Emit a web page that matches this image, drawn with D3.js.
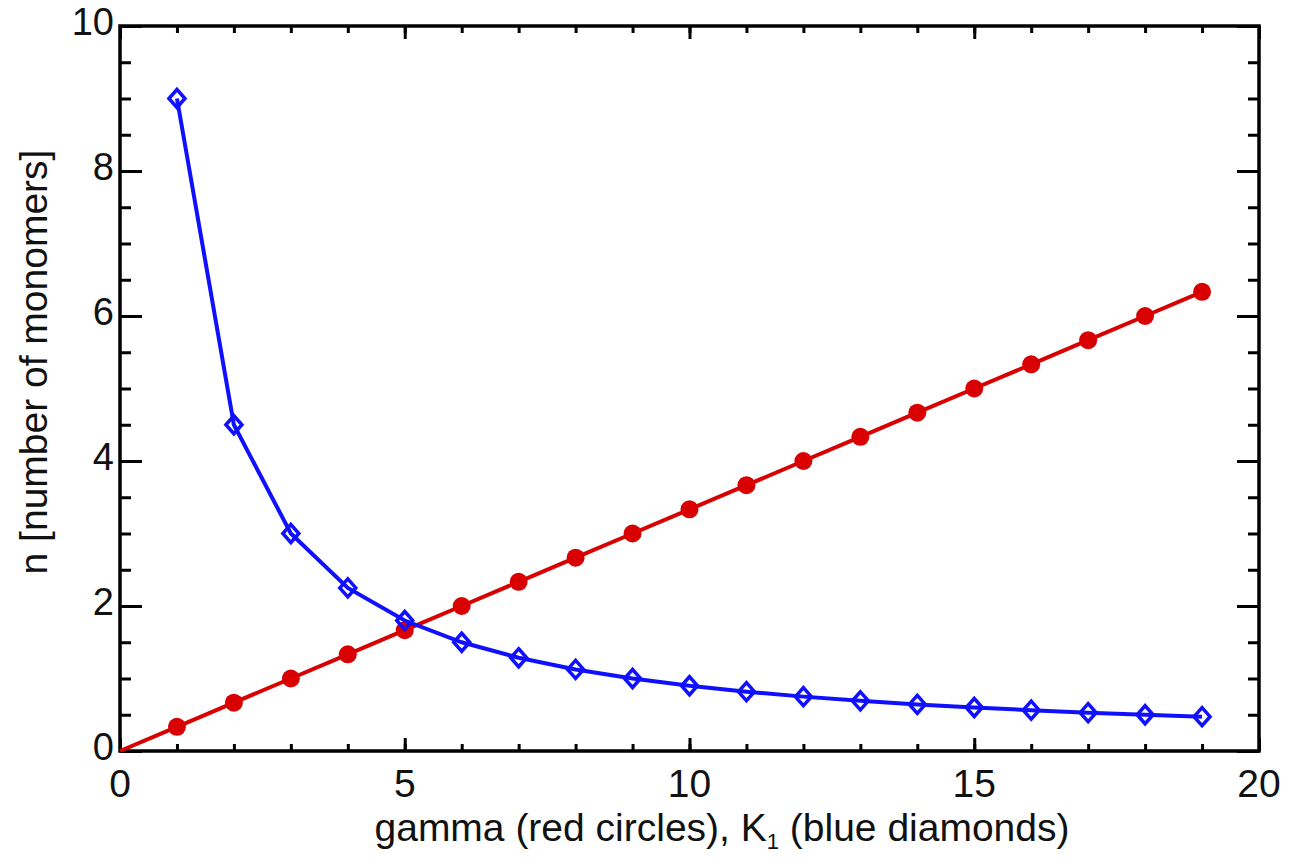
<!DOCTYPE html>
<html>
<head>
<meta charset="utf-8">
<script src="https://cdn.jsdelivr.net/npm/d3@7"></script>
<style>
  body { margin: 0; background: #fff; }
  svg text { font-family: "Liberation Sans", Arial, Helvetica, sans-serif; fill: #111; }
</style>
</head>
<body>
<svg id="chart"></svg>
<script>
// red circles: n vs gamma (line starts at the origin, no marker there)
const gammaX = [0, 1, 2, 3, 4, 5, 6, 7, 8, 9, 10, 11, 12, 13, 14, 15, 16, 17, 18, 19];
const gammaN = [0, 0.333, 0.667, 1.0, 1.333, 1.667, 2.0, 2.333, 2.667, 3.0, 3.333, 3.667, 4.0, 4.333, 4.667, 5.0, 5.333, 5.667, 6.0, 6.333];

// blue diamonds: n vs K1
const k1X = [1, 2, 3, 4, 5, 6, 7, 8, 9, 10, 11, 12, 13, 14, 15, 16, 17, 18, 19];
const k1N = [9.0, 4.5, 3.0, 2.25, 1.8, 1.5, 1.286, 1.125, 1.0, 0.9, 0.818, 0.75, 0.692, 0.643, 0.6, 0.563, 0.529, 0.5, 0.474];

const xMajor = [0, 5, 10, 15, 20];
const yMajor = [0, 2, 4, 6, 8, 10];

const width = 1313;
const height = 861;
const margin = ({ top: 26, right: 54, bottom: 110, left: 120 });

const svg = d3.select("#chart")
    .attr("width", width)
    .attr("height", height);

const xScale = d3.scaleLinear()
    .domain([0, 20])
    .range([margin.left, width - margin.right]);

const yScale = d3.scaleLinear()
    .domain([0, 10])
    .range([height - margin.bottom, margin.top]);

const xMinor = d3.range(0, 20.01, 1);
const yMinor = d3.range(0, 10.01, 0.5);

// ticks pointing inward on all four sides
function tickAxis(axis, values, size) {
    return g => g.call(axis.tickValues(values).tickSize(size).tickSizeOuter(0).tickFormat(""))
        .call(g => g.select(".domain").remove())
        .call(g => g.selectAll("line").attr("stroke", "#000").attr("stroke-width", 3));
}

const bottom = height - margin.bottom;
const right = width - margin.right;

svg.append("g").attr("transform", `translate(0,${bottom})`).call(tickAxis(d3.axisBottom(xScale), xMinor, -7));
svg.append("g").attr("transform", `translate(0,${bottom})`).call(tickAxis(d3.axisBottom(xScale), xMajor, -13));
svg.append("g").attr("transform", `translate(0,${margin.top})`).call(tickAxis(d3.axisTop(xScale), xMinor, -7));
svg.append("g").attr("transform", `translate(0,${margin.top})`).call(tickAxis(d3.axisTop(xScale), xMajor, -13));
svg.append("g").attr("transform", `translate(${margin.left},0)`).call(tickAxis(d3.axisLeft(yScale), yMinor, -11));
svg.append("g").attr("transform", `translate(${margin.left},0)`).call(tickAxis(d3.axisLeft(yScale), yMajor, -22));
svg.append("g").attr("transform", `translate(${right},0)`).call(tickAxis(d3.axisRight(yScale), yMinor, -11));
svg.append("g").attr("transform", `translate(${right},0)`).call(tickAxis(d3.axisRight(yScale), yMajor, -22));

// frame
svg.append("rect")
    .attr("x", margin.left)
    .attr("y", margin.top)
    .attr("width", right - margin.left)
    .attr("height", bottom - margin.top)
    .attr("fill", "none")
    .attr("stroke", "#000")
    .attr("stroke-width", 3.5);

// tick labels
svg.append("g")
    .selectAll("text")
    .data(xMajor)
    .enter()
    .append("text")
    .attr("x", d => xScale(d))
    .attr("y", bottom + 46)
    .attr("text-anchor", "middle")
    .attr("font-size", 39)
    .text(d => d);

svg.append("g")
    .selectAll("text")
    .data(yMajor)
    .enter()
    .append("text")
    .attr("x", margin.left - 6)
    .attr("y", d => yScale(d) + 9)
    .attr("text-anchor", "end")
    .attr("font-size", 38)
    .text(d => d);

// axis titles
const xTitle = svg.append("text")
    .attr("x", 722)
    .attr("y", 841)
    .attr("text-anchor", "middle")
    .attr("font-size", 39);
xTitle.append("tspan").text("gamma (red circles), K");
xTitle.append("tspan").attr("font-size", 22).attr("dy", 8).text("1");
xTitle.append("tspan").attr("dy", -8).text(" (blue diamonds)");

svg.append("text")
    .attr("transform", "translate(47,362) rotate(-90)")
    .attr("text-anchor", "middle")
    .attr("font-size", 39)
    .text("n [number of monomers]");

// series
const redData = gammaX.map((x, i) => ({ x: x, y: gammaN[i] }));
const blueData = k1X.map((x, i) => ({ x: x, y: k1N[i] }));

const line = d3.line()
    .x(d => xScale(d.x))
    .y(d => yScale(d.y));

svg.append("path")
    .datum(redData)
    .attr("d", line)
    .attr("fill", "none")
    .attr("stroke", "#d80000")
    .attr("stroke-width", 4);

svg.append("g")
    .selectAll("circle")
    .data(redData.filter(d => d.x > 0))
    .enter()
    .append("circle")
    .attr("cx", d => xScale(d.x))
    .attr("cy", d => yScale(d.y))
    .attr("r", 9)
    .attr("fill", "#d80000");

svg.append("path")
    .datum(blueData)
    .attr("d", line)
    .attr("fill", "none")
    .attr("stroke", "#1010ff")
    .attr("stroke-width", 4);

const dw = 8, dh = 9;
svg.append("g")
    .selectAll("path")
    .data(blueData)
    .enter()
    .append("path")
    .attr("transform", d => `translate(${xScale(d.x)},${yScale(d.y)})`)
    .attr("d", `M0,${-dh}L${dw},0L0,${dh}L${-dw},0Z`)
    .attr("fill", "none")
    .attr("stroke", "#1010ff")
    .attr("stroke-width", 3.5);
</script>
</body>
</html>
